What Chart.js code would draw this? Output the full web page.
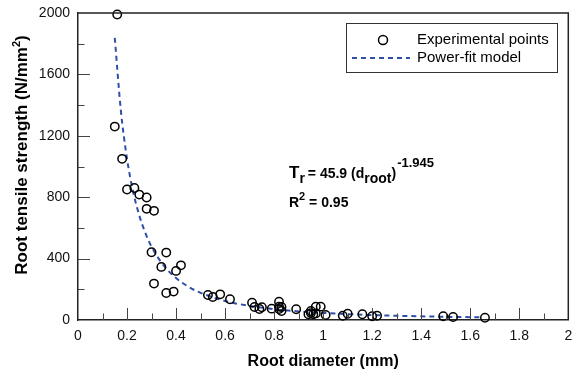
<!DOCTYPE html>
<html>
<head>
<meta charset="utf-8">
<script src="https://cdn.jsdelivr.net/npm/chart.js@4.4.1/dist/chart.umd.min.js"></script>
<style>
  html, body { margin: 0; padding: 0; background: #fff; }
  canvas { display: block; }
</style>
</head>
<body>
<canvas id="rootChart" width="574" height="372"></canvas>
<script>
// measured root samples: diameter (mm) and tensile strength (N/mm2)
var diameters = [0.16, 0.15, 0.18, 0.20, 0.23, 0.25, 0.28, 0.28, 0.31, 0.30,
                 0.36, 0.34, 0.42, 0.40, 0.31, 0.36, 0.39, 0.53, 0.55, 0.58,
                 0.62, 0.71, 0.72, 0.74, 0.75, 0.79, 0.82, 0.82, 0.83, 0.83,
                 0.82, 0.89, 0.94, 0.95, 0.96, 0.97, 0.99, 1.01, 1.08, 1.10,
                 1.16, 1.20, 1.22, 1.49, 1.53, 1.66, 0.95, 0.97];
var strengths = [1990, 1260, 1050, 850, 860, 817, 798, 724, 711, 441,
                 439, 346, 356, 320, 237, 176, 185, 163, 150, 167,
                 135, 113, 85, 72, 83, 74, 119, 87, 85, 59,
                 72, 70, 37, 59, 37, 87, 87, 33, 28, 41,
                 37, 24, 28, 24, 20, 15, 45, 43];

// power-fit curve
var modelD = [0.15, 0.175, 0.2, 0.225, 0.25, 0.275, 0.3, 0.35, 0.4, 0.45,
              0.5, 0.6, 0.7, 0.8, 0.9, 1.0, 1.2, 1.4, 1.65];
var modelT = [1838, 1362, 1050, 835, 681, 566, 477, 354, 273, 217,
              177, 124, 92, 71, 56, 46, 32, 24, 17];

var yTicks = [0, 400, 800, 1200, 1600, 2000];

var FONT = "'Liberation Sans', Arial, sans-serif";
var lineBlue = '#2f4ea8';

var points = diameters.map(function (d, i) { return { x: d, y: strengths[i] }; });
var curve = modelD.map(function (d, i) { return { x: d, y: modelT[i] }; });

// frame, inner ticks, legend, equation and axis titles
var decorations = {
    id: 'decorations',
    afterDraw: function (chart) {
        var c = chart.ctx;
        var a = chart.chartArea;
        var xs = chart.scales.x, ys = chart.scales.y;
        c.save();

        // inner tick marks
        c.strokeStyle = '#444';
        c.lineWidth = 1;
        for (var i = 1; i < 20; i++) {
            var px = Math.round(xs.getPixelForValue(i / 10)) + 0.5;
            var len = (i % 2 === 0) ? 12 : 6.5;
            c.beginPath(); c.moveTo(px, a.bottom); c.lineTo(px, a.bottom - len); c.stroke();
        }
        for (var j = 1; j < 10; j++) {
            var py = Math.round(ys.getPixelForValue(j * 200)) + 0.5;
            var ln = (j % 2 === 0) ? 12 : 6.5;
            c.beginPath(); c.moveTo(a.left, py); c.lineTo(a.left + ln, py); c.stroke();
        }

        // frame top and right
        c.strokeStyle = '#222';
        c.lineWidth = 1.5;
        c.beginPath();
        c.moveTo(a.left, a.top); c.lineTo(a.right, a.top); c.lineTo(a.right, a.bottom);
        c.stroke();

        // legend
        c.fillStyle = '#fff';
        c.fillRect(346, 23, 212, 50);
        c.strokeStyle = '#333';
        c.lineWidth = 1;
        c.strokeRect(346.5, 23.5, 211, 49);
        c.strokeStyle = '#000';
        c.lineWidth = 1.5;
        c.beginPath(); c.arc(383, 40, 4.5, 0, Math.PI * 2); c.stroke();
        c.strokeStyle = lineBlue;
        c.lineWidth = 2;
        c.setLineDash([5, 4]);
        c.beginPath(); c.moveTo(352, 58); c.lineTo(410, 58); c.stroke();
        c.setLineDash([]);
        c.fillStyle = '#000';
        c.font = '15px ' + FONT;
        c.textBaseline = 'middle';
        c.textAlign = 'left';
        c.fillText('Experimental points', 417, 40);
        c.fillText('Power-fit model', 417, 58);

        // equation
        c.textBaseline = 'alphabetic';
        var x = 289;
        function put(txt, size, dy) {
            c.font = 'bold ' + size + 'px ' + FONT;
            c.fillText(txt, x, 178 + dy);
            x += c.measureText(txt).width;
        }
        put('T', 17, 0);
        put('r', 14, 5);
        x += 3;
        put('= 45.9 (d', 14, 0);
        put('root', 14, 5);
        put(')', 14, 0);
        x += 1;
        put('-1.945', 13, -11);

        x = 289;
        function put2(txt, size, dy) {
            c.font = 'bold ' + size + 'px ' + FONT;
            c.fillText(txt, x, 207 + dy);
            x += c.measureText(txt).width;
        }
        put2('R', 14, 0);
        put2('2', 11, -7);
        put2(' = 0.95', 14, 0);

        // x axis title
        c.font = 'bold 16px ' + FONT;
        c.textAlign = 'center';
        c.fillText('Root diameter (mm)', (a.left + a.right) / 2, 366);

        // y axis title
        c.translate(27, 155);
        c.rotate(-Math.PI / 2);
        c.textAlign = 'left';
        c.font = 'bold 17px ' + FONT;
        var t1 = 'Root tensile strength (N/mm';
        var w1 = c.measureText(t1).width;
        c.font = 'bold 11px ' + FONT;
        var w2 = c.measureText('2').width;
        c.font = 'bold 17px ' + FONT;
        var w3 = c.measureText(')').width;
        var sx = -(w1 + w2 + w3) / 2;
        c.fillText(t1, sx, 0);
        c.font = 'bold 11px ' + FONT;
        c.fillText('2', sx + w1, -7);
        c.font = 'bold 17px ' + FONT;
        c.fillText(')', sx + w1 + w2, 0);

        c.restore();
    }
};

var ctx = document.getElementById('rootChart').getContext('2d');
var rootChart = new Chart(ctx, {
    type: 'scatter',
    data: {
        datasets: [{
            label: 'Power-fit model',
            data: curve,
            showLine: true,
            borderColor: lineBlue,
            borderWidth: 2,
            borderDash: [5, 4],
            pointRadius: 0,
            cubicInterpolationMode: 'monotone',
            fill: false,
            order: 2
        }, {
            label: 'Experimental points',
            data: points,
            showLine: false,
            pointRadius: 4.2,
            pointBorderWidth: 1.5,
            pointBorderColor: '#000',
            pointBackgroundColor: 'rgba(0,0,0,0)',
            clip: false,
            order: 1
        }]
    },
    options: {
        responsive: false,
        devicePixelRatio: 1,
        animation: false,
        layout: { padding: { top: 13, right: 5, left: 0, bottom: 0 } },
        plugins: {
            legend: { display: false },
            tooltip: { enabled: false }
        },
        scales: {
            x: {
                type: 'linear',
                min: 0,
                max: 2,
                afterFit: function (s) {
                    s.height = 52;
                    s.paddingLeft = 0;
                    s.paddingRight = 0;
                },
                grid: { display: false, drawTicks: false },
                border: { display: true, color: '#222', width: 1.5 },
                ticks: {
                    stepSize: 0.2,
                    padding: 8,
                    color: '#111',
                    font: { family: FONT, size: 14 },
                    maxRotation: 0,
                    callback: function (v) { return String(Math.round(v * 10) / 10); }
                }
            },
            y: {
                type: 'linear',
                min: 0,
                max: 2000,
                afterFit: function (s) {
                    s.width = 78;
                    s.paddingTop = 0;
                    s.paddingBottom = 0;
                },
                afterBuildTicks: function (s) {
                    s.ticks = yTicks.map(function (v) { return { value: v }; });
                },
                grid: { display: false, drawTicks: false },
                border: { display: true, color: '#222', width: 1.5 },
                ticks: {
                    padding: 8,
                    color: '#111',
                    font: { family: FONT, size: 14 },
                    callback: function (v) { return String(v); }
                }
            }
        }
    },
    plugins: [decorations]
});
</script>
</body>
</html>
